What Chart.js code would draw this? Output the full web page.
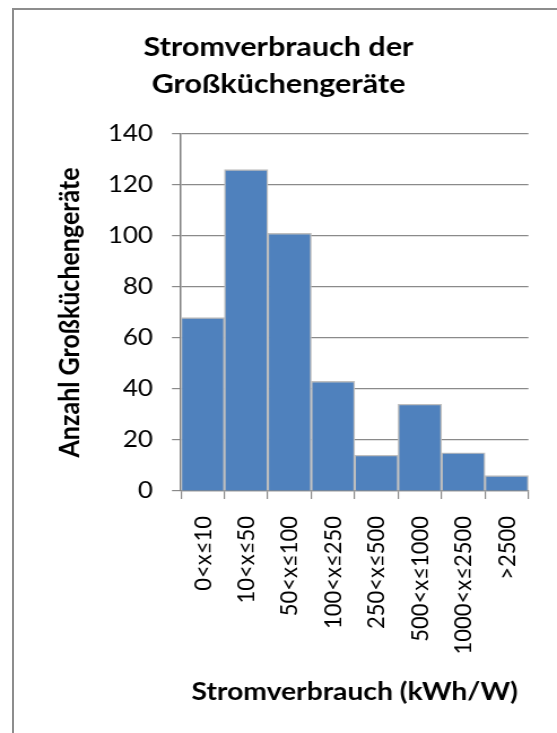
<!DOCTYPE html>
<html>
<head>
<meta charset="utf-8">
<script src="https://cdn.jsdelivr.net/npm/chart.js@4"></script>
<style>
  html, body { margin: 0; padding: 0; background: #fff; overflow: hidden; }
  body { width: 557px; height: 733px; position: relative; }
  #frame {
    position: absolute; left: 12px; top: 8px; width: 700px; height: 900px;
    border-left: 2px solid #8d8d8d; border-top: 2px solid #8d8d8d;
  }
  #wrap {
    position: absolute; left: 0; top: 0; width: 493px; height: 733px;
    transform: scaleX(1.1298); transform-origin: 0 0;
  }
  canvas { display: block; }
</style>
</head>
<body>
<div id="frame"></div>
<div id="wrap"><canvas id="chart" width="493" height="733" style="width:493px;height:733px"></canvas></div>
<script>
// Stromverbrauch-Klassen (kWh/W) und Anzahl der Geräte je Klasse
const categories = ['0<x≤10', '10<x≤50', '50<x≤100', '100<x≤250', '250<x≤500', '500<x≤1000', '1000<x≤2500', '>2500'];
const counts = [68, 126, 101, 43, 14, 34, 15, 6];

const titleLines = ['Stromverbrauch der', 'Großküchengeräte'];
const xTitle = 'Stromverbrauch (kWh/W)';
const yTitle = 'Anzahl Großküchengeräte';

const yMin = 0;
const yMax = 140;
const yStep = 20;

const FONT = 'Lato, "Open Sans", sans-serif';
const GRID = '#8a8a8a';

new Chart(document.getElementById('chart'), {
  type: 'bar',
  data: {
    labels: categories,
    datasets: [{
      data: counts,
      backgroundColor: '#4F81BD',
      borderColor: '#BEBEBE',
      borderWidth: 1.4,
      barPercentage: 1,
      categoryPercentage: 1
    }]
  },
  options: {
    responsive: false,
    animation: false,
    devicePixelRatio: 1,
    layout: { padding: { left: 17.7, right: 17.7, top: 0, bottom: 0 } },
    plugins: {
      legend: { display: false },
      tooltip: { enabled: false },
      title: {
        display: true,
        text: titleLines,
        color: '#000',
        font: { family: FONT, size: 27, weight: 'bold', lineHeight: 1.37 },
        padding: { top: 29, bottom: 31 }
      }
    },
    scales: {
      x: {
        afterFit(scale) { scale.height = 242; },
        grid: {
          display: true,
          drawOnChartArea: false,
          drawTicks: true,
          tickLength: 8,
          color: GRID,
          lineWidth: 1.2
        },
        border: { display: true, color: GRID, width: 1.2 },
        ticks: {
          color: '#000',
          font: { family: FONT, size: 22 },
          minRotation: 90,
          maxRotation: 90,
          autoSkip: false,
          padding: 17
        },
        title: {
          display: true,
          text: xTitle,
          color: '#000',
          font: { family: FONT, size: 25, weight: 'bold', lineHeight: 1.2 },
          padding: { top: 4, bottom: 26 }
        }
      },
      y: {
        min: yMin,
        max: yMax,
        afterFit(scale) { scale.width = 142.5; },
        grid: {
          color: GRID,
          lineWidth: 1.2,
          drawTicks: true,
          tickLength: 8
        },
        border: { display: true, color: '#808080', width: 1.5 },
        ticks: {
          stepSize: yStep,
          color: '#000',
          font: { family: FONT, size: 23 },
          padding: 16.8
        },
        title: {
          display: true,
          text: yTitle,
          color: '#000',
          font: { family: FONT, size: 25, weight: 'bold', lineHeight: 1.2 },
          padding: { top: 29.3, bottom: 0 }
        }
      }
    }
  }
});
</script>
</body>
</html>
